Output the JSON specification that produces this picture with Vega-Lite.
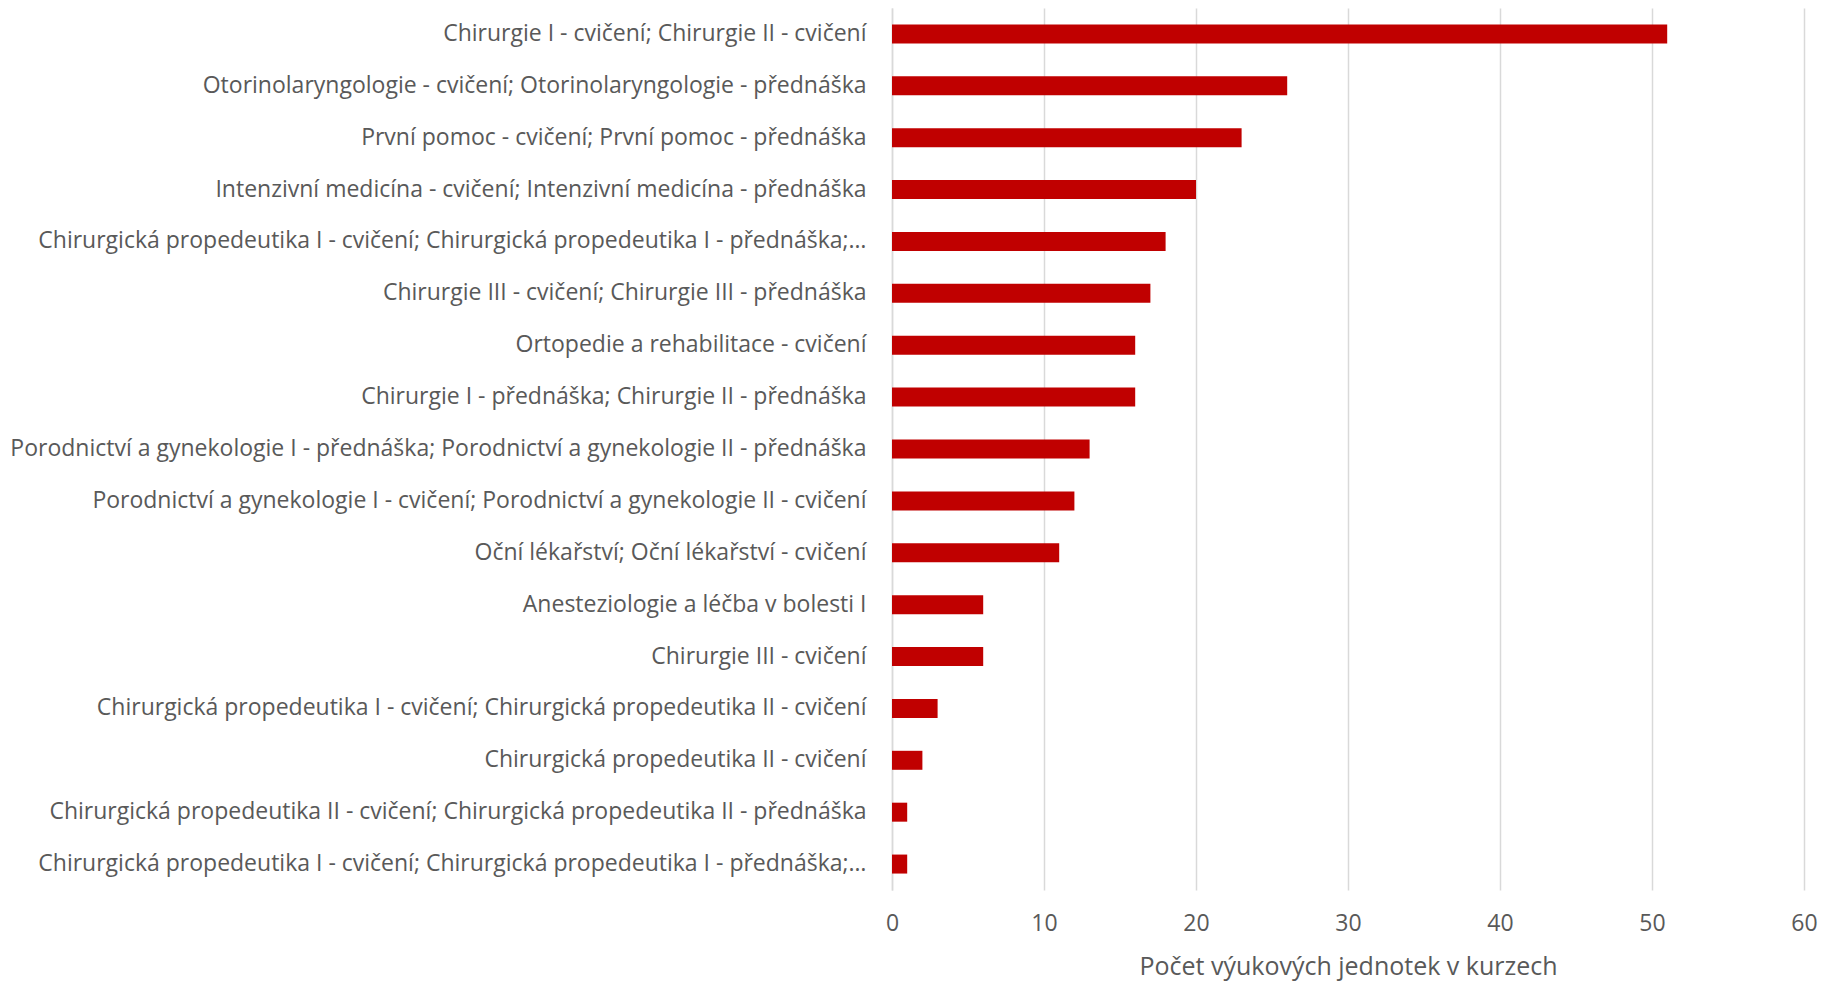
{
  "$schema": "https://vega.github.io/schema/vega-lite/v6.json",
  "autosize": {"type": "none"},
  "width": 912,
  "height": 882,
  "padding": {"left": 892, "top": 8, "right": 29, "bottom": 91},
  "background": "white",
  "config": {
    "view": {"stroke": null},
    "font": "Open Sans"
  },
  "data": {
    "values": [
      {"kurz": "Chirurgie I - cvičení; Chirurgie II - cvičení", "pocet": 51},
      {"kurz": "Otorinolaryngologie - cvičení; Otorinolaryngologie - přednáška", "pocet": 26},
      {"kurz": "První pomoc - cvičení; První pomoc - přednáška", "pocet": 23},
      {"kurz": "Intenzivní medicína - cvičení; Intenzivní medicína - přednáška", "pocet": 20},
      {"kurz": "Chirurgická propedeutika I - cvičení; Chirurgická propedeutika I - přednáška;…", "pocet": 18},
      {"kurz": "Chirurgie III - cvičení; Chirurgie III - přednáška", "pocet": 17},
      {"kurz": "Ortopedie a rehabilitace - cvičení", "pocet": 16},
      {"kurz": "Chirurgie I - přednáška; Chirurgie II - přednáška", "pocet": 16},
      {"kurz": "Porodnictví a gynekologie I - přednáška; Porodnictví a gynekologie II - přednáška", "pocet": 13},
      {"kurz": "Porodnictví a gynekologie I - cvičení; Porodnictví a gynekologie II - cvičení", "pocet": 12},
      {"kurz": "Oční lékařství; Oční lékařství - cvičení", "pocet": 11},
      {"kurz": "Anesteziologie a léčba v bolesti I", "pocet": 6},
      {"kurz": "Chirurgie III - cvičení", "pocet": 6},
      {"kurz": "Chirurgická propedeutika I - cvičení; Chirurgická propedeutika II - cvičení", "pocet": 3},
      {"kurz": "Chirurgická propedeutika II - cvičení", "pocet": 2},
      {"kurz": "Chirurgická propedeutika II - cvičení; Chirurgická propedeutika II - přednáška", "pocet": 1},
      {"kurz": "Chirurgická propedeutika I - cvičení; Chirurgická propedeutika I - přednáška;…\u200b", "pocet": 1}
    ]
  },
  "mark": {"type": "bar", "color": "#C00000"},
  "encoding": {
    "y": {
      "field": "kurz",
      "type": "nominal",
      "sort": null,
      "scale": {"paddingInner": 0.634, "paddingOuter": 0.317},
      "axis": {
        "title": null,
        "ticks": false,
        "domain": true,
        "domainColor": "#d9d9d9",
        "domainWidth": 1.5,
        "labelPadding": 26,
        "labelFontSize": 23,
        "labelColor": "#595959",
        "labelLimit": 0
      }
    },
    "x": {
      "field": "pocet",
      "type": "quantitative",
      "scale": {"domain": [0, 60], "nice": false},
      "axis": {
        "title": "Počet výukových jednotek v kurzech",
        "values": [0, 10, 20, 30, 40, 50, 60],
        "ticks": false,
        "domain": false,
        "grid": true,
        "gridColor": "#d9d9d9",
        "gridWidth": 1.5,
        "labelFlush": false,
        "labelPadding": 22,
        "labelFontSize": 23,
        "labelColor": "#595959",
        "titleFontSize": 25,
        "titleFontWeight": "normal",
        "titleColor": "#595959",
        "titlePadding": 19
      }
    }
  }
}
